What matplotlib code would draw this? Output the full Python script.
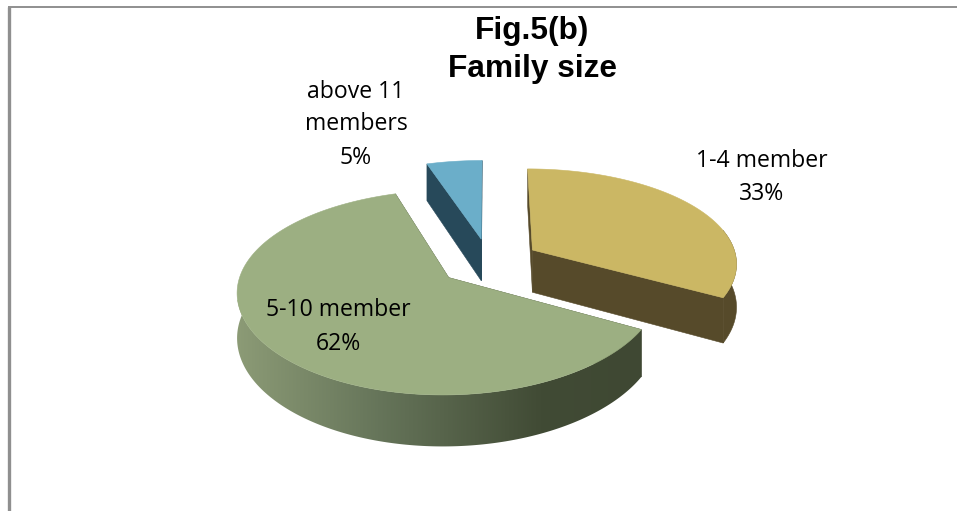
import numpy as np
import matplotlib
matplotlib.use("Agg")
import matplotlib.pyplot as plt
from matplotlib.patches import Polygon
from matplotlib.colors import LinearSegmentedColormap

categories = ["1-4 member", "5-10 member", "above 11\nmembers"]
shares = [33, 62, 5]
top_colors = ["#CBB764", "#9CAF82", "#6BAEC9"]
cut_colors = ["#564A2A", "#3F4833", "#27495A"]
title_lines = "Fig.5(b)\nFamily size"

W, H = 957, 511
CX, CY = 489, 262
A, B = 205, 95.8
K, KX = 0.142, 0.125
DEPTH = 43
EXPLODE = 0.25

fig = plt.figure(figsize=(W / 100, H / 100), dpi=100)
ax = fig.add_axes([0, 0, 1, 1])


def project(u, v, drop=0.0):
    s = 1 / (1 + K * v)
    return CX + A * u / (1 + KX * v), CY - B * v * s + drop * s


side_green = LinearSegmentedColormap.from_list(
    "g", [(0, "#8C9B76"), (0.35, "#66755A"), (0.75, "#414B35"), (1, "#3F4833")])


def face(pts, color, z):
    p = Polygon(pts, closed=True, facecolor=color, edgecolor=color, lw=0.4, zorder=z)
    ax.add_patch(p)
    return p


fracs = np.array(shares) / sum(shares)
edges = 90 - 360 * np.concatenate([[0], np.cumsum(fracs)])

for i in [2, 0, 1]:
    t0, t1 = edges[i], edges[i + 1]
    mid = np.radians((t0 + t1) / 2)
    ou, ov = EXPLODE * np.cos(mid), EXPLODE * np.sin(mid)
    tt = np.radians(np.linspace(t0, t1, 360))
    us, vs = ou + np.cos(tt), ov + np.sin(tt)
    z = 2 + i * 3
    apex = project(ou, ov)
    apex_d = project(ou, ov, DEPTH)
    rim = np.column_stack(project(us, vs))
    rim_d = np.column_stack(project(us, vs, DEPTH))

    # flat cut faces
    face([apex, rim[0], rim_d[0], apex_d], cut_colors[i], z)
    face([apex, rim[-1], rim_d[-1], apex_d], cut_colors[i], z)

    # outer curved wall, visible on the near side only
    near = np.sin(tt) + ov < 0.35
    wall = np.vstack([rim[near], rim_d[near][::-1]])
    if i == 1:
        clip = Polygon(wall, closed=True, facecolor="none", edgecolor="none",
                       transform=ax.transData)
        ax.add_patch(clip)
        im = ax.imshow(np.linspace(0, 1, 256)[None, :], cmap=side_green, aspect="auto",
                       extent=[236, 642, 460, 300], zorder=z + 1, interpolation="bilinear")
        im.set_clip_path(clip)
    else:
        face(wall, cut_colors[i], z + 1)

    # top face
    face(np.vstack([[apex], rim]), top_colors[i], z + 2)

ax.set_xlim(0, W)
ax.set_ylim(H, 0)
ax.axis("off")

# frame of the chart area
ax.plot([9, 9], [H, 7.5], color="#8F8F8F", lw=2.4, solid_capstyle="butt", zorder=20)
ax.plot([8, W], [7.5, 7.5], color="#8F8F8F", lw=1.4, solid_capstyle="butt", zorder=20)

ax.text(532, 50, title_lines, ha="center", va="center", fontsize=22.8, fontweight="bold",
        family="Liberation Sans", color="black", linespacing=1.33, zorder=30)

label_xy = [(762, 177.5), (338, 327), (356, 124.5)]
pct_text = [f"{s}%" for s in shares]
for (x, y), c, p in zip(label_xy, categories, pct_text):
    ax.text(x, y, f"{c}\n{p}", ha="center", va="center", fontsize=16.6,
            family="Open Sans", color="black", linespacing=1.5, zorder=30)

fig.savefig("out.png", dpi=100, facecolor="white")
